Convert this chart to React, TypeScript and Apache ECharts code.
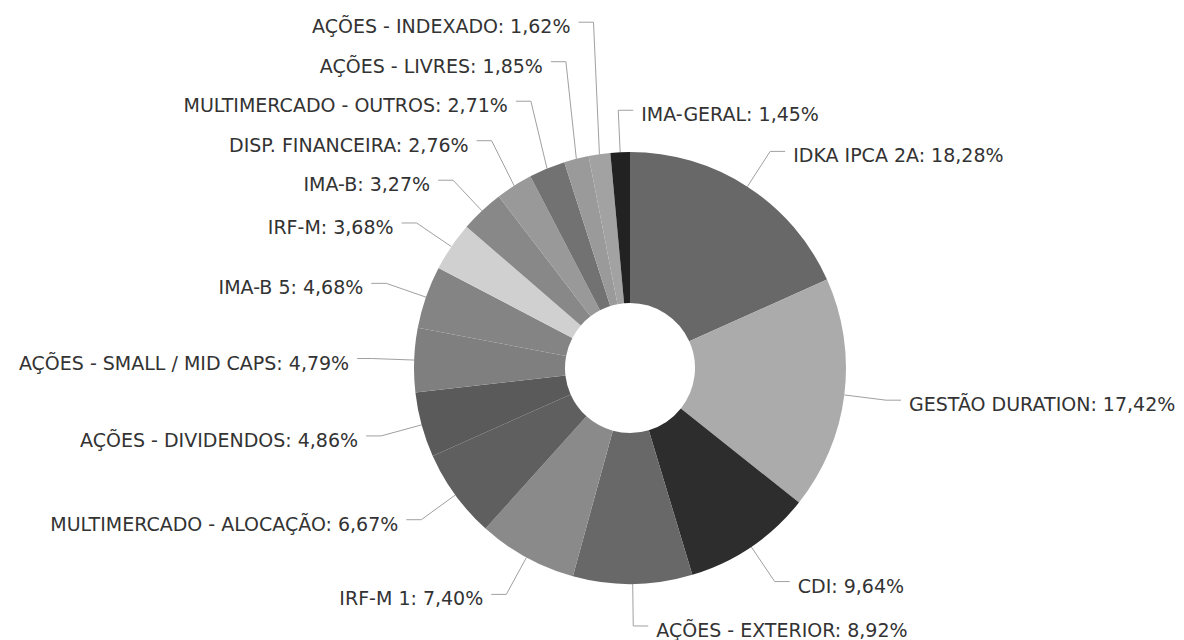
import React, { useEffect, useRef } from 'react';
import * as echarts from 'echarts';

const categories = [
  'IDKA IPCA 2A',
  'GESTÃO DURATION',
  'CDI',
  'AÇÕES - EXTERIOR',
  'IRF-M 1',
  'MULTIMERCADO - ALOCAÇÃO',
  'AÇÕES - DIVIDENDOS',
  'AÇÕES - SMALL / MID CAPS',
  'IMA-B 5',
  'IRF-M',
  'IMA-B',
  'DISP. FINANCEIRA',
  'MULTIMERCADO - OUTROS',
  'AÇÕES - LIVRES',
  'AÇÕES - INDEXADO',
  'IMA-GERAL',
];
const values = [18.28, 17.42, 9.64, 8.92, 7.4, 6.67, 4.86, 4.79, 4.68, 3.68, 3.27, 2.76, 2.71, 1.85, 1.62, 1.45];
const colors = [
  '#686868', '#ababab', '#2d2d2d', '#686868', '#8a8a8a', '#5f5f5f', '#5a5a5a', '#7f7f7f',
  '#848484', '#d0d0d0', '#888888', '#999999', '#727272', '#9a9a9a', '#a2a2a2', '#222222',
];
// label drawn on the right side although its slice is just left of 12 o'clock
const rightSideLabels = ['IMA-GERAL'];

const fmt = (v: number) => v.toFixed(2).replace('.', ',') + '%';

const CX = 630;
const CY = 368;
const R_IN = 65;
const R_OUT = 216;
const LEN = 42;
const LEN2 = 15;
const DIST = 8;
const GAP = 39.5;
const TEXT_DY = 4;

// Stack labels upward on each side so that they keep GAP between them.
function stackedLabelY(): { y: number[]; right: boolean[] } {
  const total = values.reduce((a, b) => a + b, 0);
  let cum = 0;
  const items = values.map((v, i) => {
    const mid = ((cum + v / 2) / total) * Math.PI * 2;
    cum += v;
    const right = rightSideLabels.includes(categories[i]) || Math.sin(mid) >= 0;
    return { i, right, y: CY - (R_OUT + LEN) * Math.cos(mid) };
  });
  const y: number[] = new Array(values.length).fill(0);
  const right: boolean[] = items.map((it) => it.right);
  [true, false].forEach((side) => {
    const list = items.filter((it) => it.right === side).sort((a, b) => a.y - b.y);
    let below = Infinity;
    for (let k = list.length - 1; k >= 0; k--) {
      const yy = Math.min(list[k].y, below - GAP);
      y[list[k].i] = yy;
      below = yy;
    }
  });
  return { y, right };
}

export default function App() {
  const ref = useRef<HTMLDivElement>(null);
  useEffect(() => {
    if (!ref.current) return;
    const chart = echarts.init(ref.current, undefined, { renderer: 'svg' });
    const stack = stackedLabelY();
    chart.setOption({
      animation: false,
      backgroundColor: '#ffffff',
      series: [
        {
          type: 'pie',
          center: [CX, CY],
          radius: [R_IN, R_OUT],
          startAngle: 90,
          clockwise: true,
          avoidLabelOverlap: false,
          emphasis: { disabled: true },
          itemStyle: { borderWidth: 0 },
          label: {
            formatter: (p: any) => `${p.name}: ${fmt(p.value)}`,
            fontFamily: 'DejaVu Sans',
            fontSize: 19,
            color: '#333333',
          },
          labelLine: { length: LEN, length2: LEN2, lineStyle: { color: '#a0a0a0', width: 1 } },
          labelLayout: (params: any) => {
            const pts = params.labelLinePoints;
            if (!pts) return {};
            const i = params.dataIndex;
            const y = stack.y[i];
            const edge = pts[0];
            const bendX = pts[1][0];
            const isRight = stack.right[i];
            const endX = isRight ? bendX + LEN2 : bendX - LEN2;
            return {
              x: isRight ? endX + DIST : endX - DIST,
              y: y + TEXT_DY,
              align: isRight ? 'left' : 'right',
              verticalAlign: 'middle',
              labelLinePoints: [
                [edge[0], edge[1]],
                [bendX, y],
                [endX, y],
              ],
            };
          },
          data: categories.map((n, i) => ({ name: n, value: values[i], itemStyle: { color: colors[i] } })),
        },
      ],
    });
    return () => chart.dispose();
  }, []);
  return <div ref={ref} style={{ position: 'fixed', left: 0, top: 0, width: 1184, height: 640 }} />;
}
